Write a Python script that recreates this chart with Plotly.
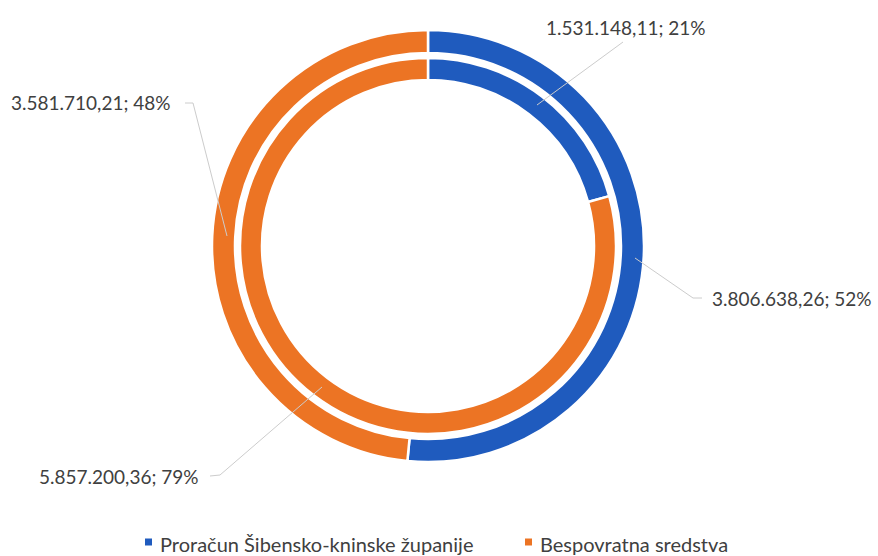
import plotly.graph_objects as go

# Funding sources (EUR)
labels = ["Proračun Šibensko-kninske županije", "Bespovratna sredstva"]
outer_values = [3806638.26, 3581710.21]
inner_values = [1531148.11, 5857200.36]
colors = ["#1F5BBE", "#EC7424"]

W, H = 878, 556
FONT = "Lato"
TEXT_COLOR = "#404040"
LINE_COLOR = "#CCCCCC"


def hr_number(v):
    s = f"{v:,.2f}"
    return s.replace(",", "X").replace(".", ",").replace("X", ".")


def label_text(values, i):
    pct = round(values[i] / sum(values) * 100)
    return f"{hr_number(values[i])}; {pct}%"


def px_x(x):
    return x / W


def px_y(y):
    return 1 - y / H


def domain(cx, cy, r):
    return dict(x=[px_x(cx - r), px_x(cx + r)], y=[px_y(cy + r), px_y(cy - r)])


CX, CY = 428, 246

fig = go.Figure()
fig.add_trace(go.Pie(
    labels=labels, values=outer_values, hole=193 / 216,
    domain=domain(CX, CY, 216), sort=False, direction="clockwise", rotation=0,
    marker=dict(colors=colors, line=dict(color="white", width=2.5)),
    textinfo="none", showlegend=False,
))
fig.add_trace(go.Pie(
    labels=labels, values=inner_values, hole=166 / 188,
    domain=domain(CX, CY, 188), sort=False, direction="clockwise", rotation=0,
    marker=dict(colors=colors, line=dict(color="white", width=2.5)),
    textinfo="none", showlegend=False,
))

# Data labels: (values, index, x, y, anchor)
label_specs = [
    (inner_values, 0, 544, 27, "left"),
    (outer_values, 1, 173, 103, "right"),
    (outer_values, 0, 710, 298, "left"),
    (inner_values, 1, 201, 476, "right"),
]
annotations = []
for vals, i, x, y, anchor in label_specs:
    annotations.append(dict(
        x=px_x(x), y=px_y(y), xref="paper", yref="paper",
        xanchor=anchor, yanchor="middle", showarrow=False,
        text=label_text(vals, i),
        font=dict(family=FONT, size=19, color=TEXT_COLOR),
    ))

# Leader lines
leaders = [
    [(537, 105), (623, 42)],
    [(185, 103), (193, 103), (227, 236)],
    [(635, 258), (693, 298), (702, 298)],
    [(322, 387), (220, 475), (210, 476)],
]
shapes = []
for pts in leaders:
    path = "M " + " L ".join(f"{px_x(x)},{px_y(y)}" for x, y in pts)
    shapes.append(dict(type="path", path=path, xref="paper", yref="paper",
                       line=dict(color=LINE_COLOR, width=1)))

# Legend
legend_pos = [(148.5, 542), (528.5, 542)]
for (x, y), lab, col in zip(legend_pos, labels, colors):
    s = 3.5
    shapes.append(dict(type="rect", xref="paper", yref="paper",
                       x0=px_x(x - s), x1=px_x(x + s), y0=px_y(y + s), y1=px_y(y - s),
                       fillcolor=col, line=dict(width=0)))
    annotations.append(dict(
        x=px_x(x + 9.5), y=px_y(y + 2), xref="paper", yref="paper",
        xanchor="left", yanchor="middle", showarrow=False, text=lab,
        font=dict(family=FONT, size=20, color=TEXT_COLOR),
    ))

fig.update_layout(
    width=W, height=H,
    margin=dict(l=0, r=0, t=0, b=0),
    paper_bgcolor="white", plot_bgcolor="white",
    annotations=annotations, shapes=shapes,
    showlegend=False,
)

fig.write_html("out.html")
